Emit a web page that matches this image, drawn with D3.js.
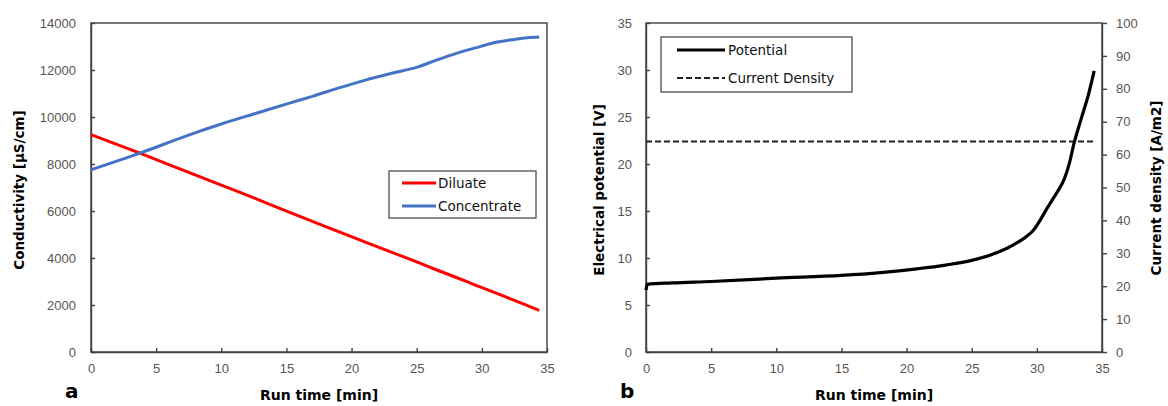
<!DOCTYPE html>
<html>
<head>
<meta charset="utf-8">
<script src="https://cdn.jsdelivr.net/npm/d3@7"></script>
<style>
  html, body { margin: 0; padding: 0; background: #fff; }
  svg { display: block; font-family: "DejaVu Sans", Verdana, sans-serif; }
  .tick text { fill: #5b5350; font-size: 13px; }
  .tick line, .domain { stroke: #404040; stroke-width: 1.4; }
</style>
</head>
<body>
<svg id="chart" width="1168" height="406"></svg>
<script>
// Panel a: conductivity over run time
const condTime   = [0, 3.8, 7.6, 10, 12.5, 15.3, 17, 19.1, 21, 23, 25.1, 26.5, 28.1, 29.5, 30.7, 32.5, 33.5, 34.4];
const diluate    = [9250, 8450, 7620, 7100, 6560, 5930, 5560, 5100, 4690, 4260, 3810, 3500, 3160, 2850, 2590, 2200, 1975, 1770];
const concentrate= [7750, 8470, 9250, 9700, 10130, 10600, 10880, 11250, 11560, 11850, 12130, 12420, 12720, 12940, 13130, 13300, 13370, 13400];
const condTicks  = [0, 2000, 4000, 6000, 8000, 10000, 12000, 14000];
const timeTicks  = [0, 5, 10, 15, 20, 25, 30, 35];

// Panel b: electrical potential and applied current density
const potTime    = [0, 0.1, 2, 5, 10, 15, 18, 20.8, 23, 25, 26.5, 28.2, 29.2, 29.7, 30.2, 30.7, 31.2, 31.6, 32.1, 32.5, 32.85, 33.4, 34, 34.4];
const potential  = [6.6, 7.2, 7.35, 7.5, 7.85, 8.15, 8.45, 8.85, 9.25, 9.75, 10.35, 11.4, 12.3, 12.9, 13.9, 15.1, 16.2, 17.1, 18.4, 20.1, 22.2, 24.8, 27.6, 29.9];
const cdTime     = [0, 34.5];
const currentDensity = [64, 64];
const potTicks   = [0, 5, 10, 15, 20, 25, 30, 35];
const cdTicks    = [0, 10, 20, 30, 40, 50, 60, 70, 80, 90, 100];

const svg = d3.select("#chart");
const frameColor = "#404040";
const plain = d3.format("d");

function frame(g, x0, x1, y0, y1) {
  g.append("rect").attr("x", x0).attr("y", y1).attr("width", x1 - x0).attr("height", y0 - y1)
    .attr("fill", "none").attr("stroke", frameColor).attr("stroke-width", 1.4);
}

// ---------- Panel a ----------
{
  const x = d3.scaleLinear().domain([0, 35]).range([91, 547]);
  const y = d3.scaleLinear().domain([0, 14000]).range([352, 23]);
  const g = svg.append("g");

  g.append("g").attr("transform", "translate(0,352)")
    .call(d3.axisBottom(x).tickValues(timeTicks).tickFormat(plain).tickSizeInner(-4).tickSizeOuter(0).tickPadding(12));
  g.append("g").attr("transform", "translate(91,0)")
    .call(d3.axisLeft(y).tickValues(condTicks).tickFormat(plain).tickSizeInner(-4).tickSizeOuter(0).tickPadding(15));
  frame(g, 91, 547, 352, 23);

  const line = d3.line().x(d => x(d[0])).y(d => y(d[1])).curve(d3.curveMonotoneX);
  g.append("path").datum(condTime.map((t, i) => [t, diluate[i]]))
    .attr("d", line).attr("fill", "none").attr("stroke", "#ff0000").attr("stroke-width", 3);
  g.append("path").datum(condTime.map((t, i) => [t, concentrate[i]]))
    .attr("d", line).attr("fill", "none").attr("stroke", "#4472c4").attr("stroke-width", 3);

  // legend
  const lg = g.append("g");
  lg.append("rect").attr("x", 389).attr("y", 171).attr("width", 147).attr("height", 47)
    .attr("fill", "#fff").attr("stroke", frameColor).attr("stroke-width", 1.2);
  [["Diluate", "#ff0000", 183], ["Concentrate", "#4472c4", 206]].forEach(([label, c, yy]) => {
    lg.append("line").attr("x1", 402).attr("x2", 436).attr("y1", yy).attr("y2", yy)
      .attr("stroke", c).attr("stroke-width", 3);
    lg.append("text").attr("x", 438).attr("y", yy + 5).attr("font-size", 13.5).attr("fill", "#111").text(label);
  });

  g.append("text").attr("transform", "translate(24,190) rotate(-90)").attr("text-anchor", "middle")
    .attr("font-weight", "bold").attr("font-size", 13.5).text("Conductivity [µS/cm]");
  g.append("text").attr("x", 319).attr("y", 400).attr("text-anchor", "middle")
    .attr("font-weight", "bold").attr("font-size", 14).text("Run time [min]");
  g.append("text").attr("x", 65).attr("y", 398).attr("font-weight", "bold").attr("font-size", 20).text("a");
}

// ---------- Panel b ----------
{
  const x = d3.scaleLinear().domain([0, 35]).range([646, 1102]);
  const y = d3.scaleLinear().domain([0, 35]).range([352, 23]);
  const y2 = d3.scaleLinear().domain([0, 100]).range([352, 23]);
  const g = svg.append("g");

  g.append("g").attr("transform", "translate(0,352)")
    .call(d3.axisBottom(x).tickValues(timeTicks).tickFormat(plain).tickSizeInner(-4).tickSizeOuter(0).tickPadding(12));
  g.append("g").attr("transform", "translate(646,0)")
    .call(d3.axisLeft(y).tickValues(potTicks).tickFormat(plain).tickSizeInner(-4).tickSizeOuter(0).tickPadding(14));
  g.append("g").attr("transform", "translate(1102,0)")
    .call(d3.axisRight(y2).tickValues(cdTicks).tickFormat(plain).tickSizeInner(5).tickSizeOuter(0).tickPadding(9));
  frame(g, 646, 1102, 352, 23);

  g.append("path").datum(cdTime.map((t, i) => [t, currentDensity[i]]))
    .attr("d", d3.line().x(d => x(d[0])).y(d => y2(d[1])))
    .attr("fill", "none").attr("stroke", "#222").attr("stroke-width", 2).attr("stroke-dasharray", "6,3");
  g.append("path").datum(potTime.map((t, i) => [t, potential[i]]))
    .attr("d", d3.line().x(d => x(d[0])).y(d => y(d[1])).curve(d3.curveMonotoneX))
    .attr("fill", "none").attr("stroke", "#000").attr("stroke-width", 3.2);

  // legend
  const lg = g.append("g");
  lg.append("rect").attr("x", 661).attr("y", 37).attr("width", 191).attr("height", 55)
    .attr("fill", "#fff").attr("stroke", frameColor).attr("stroke-width", 1.2);
  lg.append("line").attr("x1", 677).attr("x2", 725).attr("y1", 50).attr("y2", 50)
    .attr("stroke", "#000").attr("stroke-width", 3);
  lg.append("text").attr("x", 728).attr("y", 55).attr("font-size", 13.5).attr("fill", "#111").text("Potential");
  lg.append("line").attr("x1", 677).attr("x2", 725).attr("y1", 78).attr("y2", 78)
    .attr("stroke", "#222").attr("stroke-width", 2).attr("stroke-dasharray", "6,3");
  lg.append("text").attr("x", 728).attr("y", 83).attr("font-size", 13.5).attr("fill", "#111").text("Current Density");

  g.append("text").attr("transform", "translate(604,190) rotate(-90)").attr("text-anchor", "middle")
    .attr("font-weight", "bold").attr("font-size", 13.5).text("Electrical potential [V]");
  g.append("text").attr("transform", "translate(1161,188) rotate(-90)").attr("text-anchor", "middle")
    .attr("font-weight", "bold").attr("font-size", 13.5).text("Current density [A/m2]");
  g.append("text").attr("x", 874).attr("y", 400).attr("text-anchor", "middle")
    .attr("font-weight", "bold").attr("font-size", 14).text("Run time [min]");
  g.append("text").attr("x", 620).attr("y", 398).attr("font-weight", "bold").attr("font-size", 20).text("b");
}
</script>
</body>
</html>
